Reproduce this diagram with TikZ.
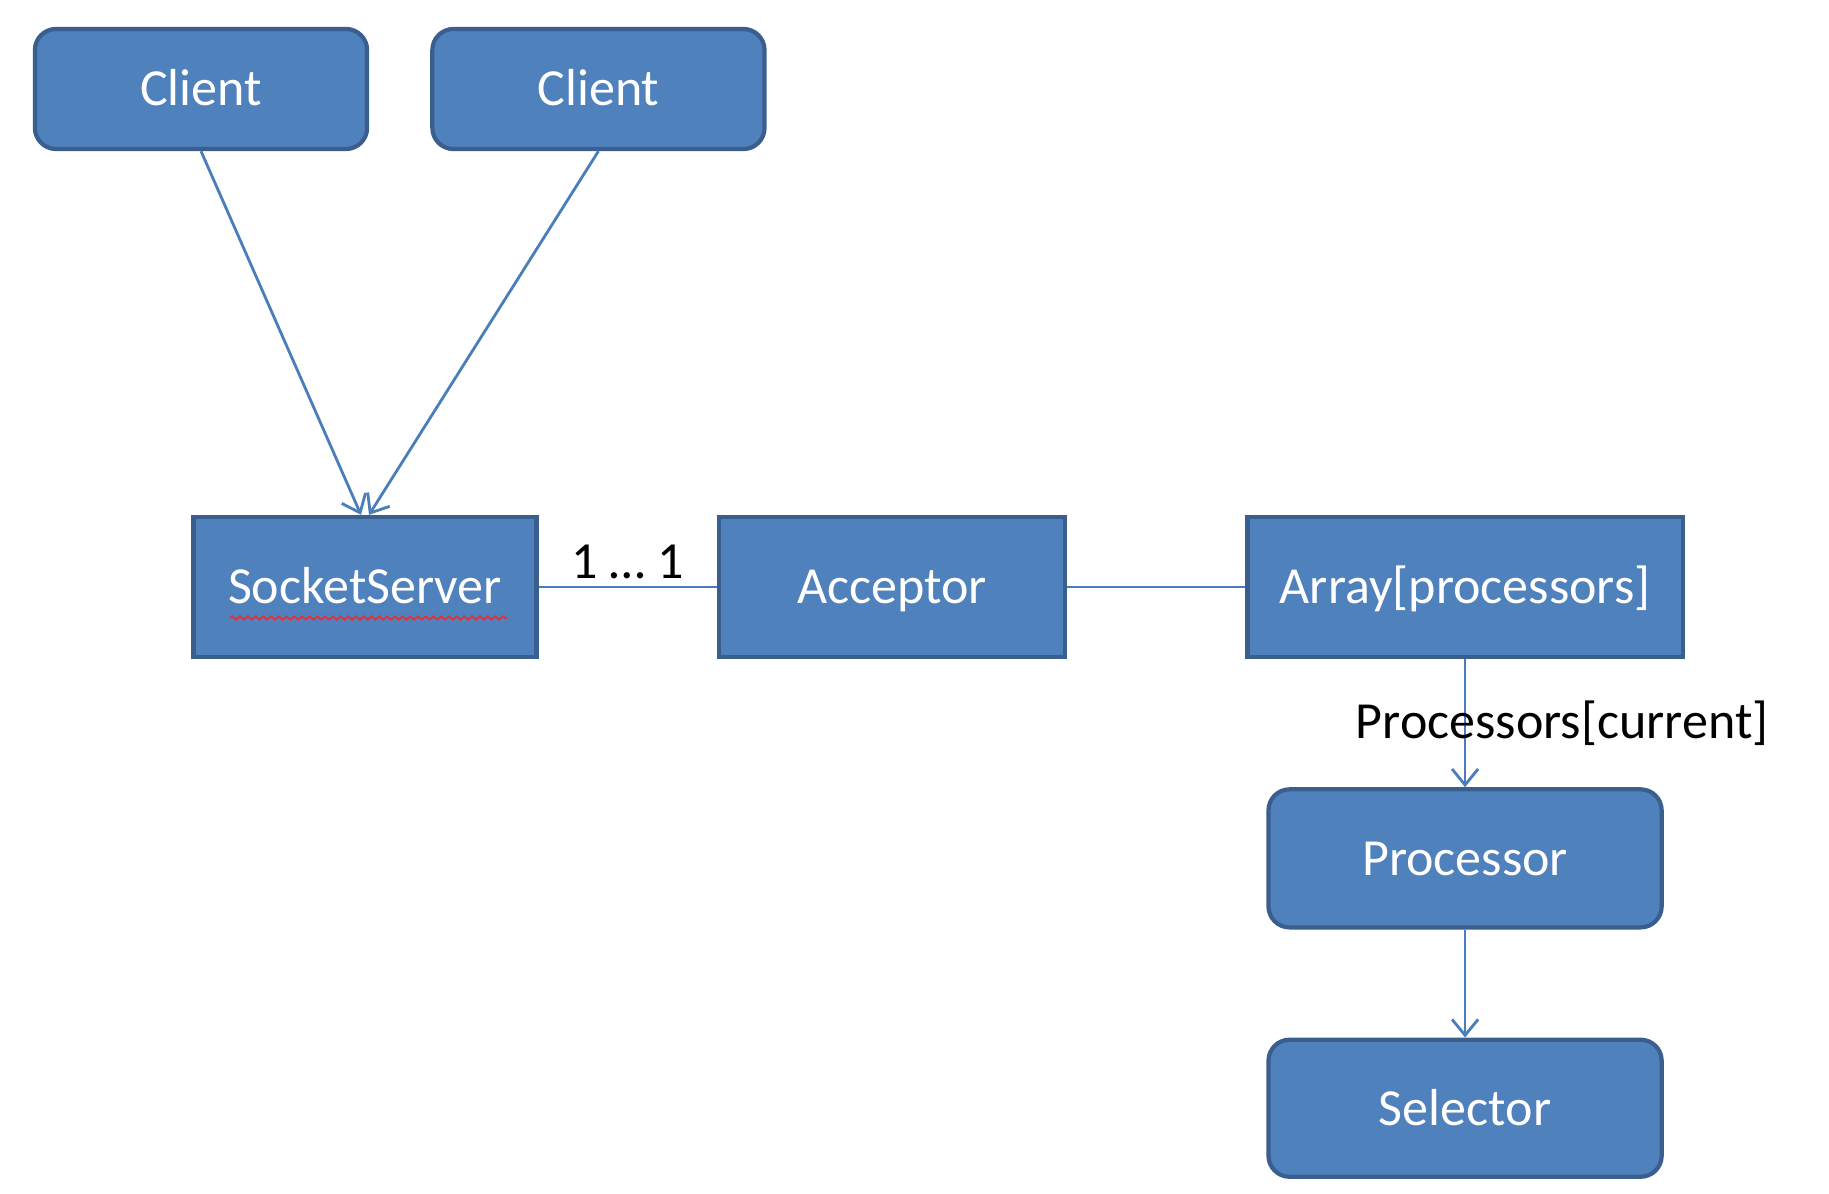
\documentclass[tikz,border=0pt]{standalone}
\usepackage{fontspec}
\setmainfont{Carlito}
\usetikzlibrary{arrows.meta,positioning,decorations.pathmorphing}
\definecolor{boxfill}{HTML}{4F81BD}
\definecolor{boxline}{HTML}{3A5F8E}
\definecolor{wire}{HTML}{4A7EBB}
\definecolor{spell}{HTML}{E0303C}

\begin{document}
\begin{tikzpicture}[
  x=0.01cm, y=-0.01cm,
  every node/.style={font=\fontsize{14.8}{17}\selectfont},
  box/.style={rectangle, draw=boxline, fill=boxfill, line width=1.2pt, text=white,
              inner sep=0pt, minimum height=1.4cm, text height=0.98em, text depth=0.02em},
  rbox/.style={box, rounded corners=6pt},
  link/.style={draw=wire, line width=0.8pt},
  arr/.style={link, -{Straight Barb[length=1.6mm,width=2.6mm]}}
]
\useasboundingbox (0,0) rectangle (1829,1194);

% ---- Clients ----
\node[rbox, minimum width=3.32cm, minimum height=1.2cm] (C1) at (201,89) {Client};
\node[rbox, minimum width=3.32cm, minimum height=1.2cm, right=0.61cm of C1] (C2) {Client};

% ---- Server row ----
\node[box, minimum width=3.43cm] (SS) at (365,587) {SocketServer};
\node[box, minimum width=3.46cm, right=1.78cm of SS] (AC) {Acceptor};
\node[box, minimum width=4.35cm, right=1.78cm of AC] (AR) {Array[processors]};

% spell-check squiggle under SocketServer
\draw[spell, line width=0.5pt, decorate, decoration={snake, amplitude=0.5pt, segment length=2.2pt}]
  ([xshift=-1.35cm,yshift=-0.31cm]SS.center) -- ([xshift=1.42cm,yshift=-0.31cm]SS.center);

% ---- Processor column ----
\node[rbox, minimum width=3.93cm, minimum height=1.38cm, below=1.28cm of AR] (PR) {Processor};
\node[rbox, minimum width=3.93cm, minimum height=1.37cm, below=1.08cm of PR] (SE) {Selector};

% ---- Connectors ----
\draw[arr] (C1.south) -- ([xshift=-0.04cm]SS.north);
\draw[arr] (C2.south) -- ([xshift=0.04cm]SS.north);
\draw[link] (SS) -- node[above, inner sep=2pt] {1 … 1} (AC);
\draw[link] (AC) -- (AR);
\draw[arr] (AR) -- node[pos=0.5, xshift=0.97cm, inner sep=0pt] {Processors[current]} (PR);
\draw[arr] (PR) -- (SE);

\end{tikzpicture}
\end{document}
